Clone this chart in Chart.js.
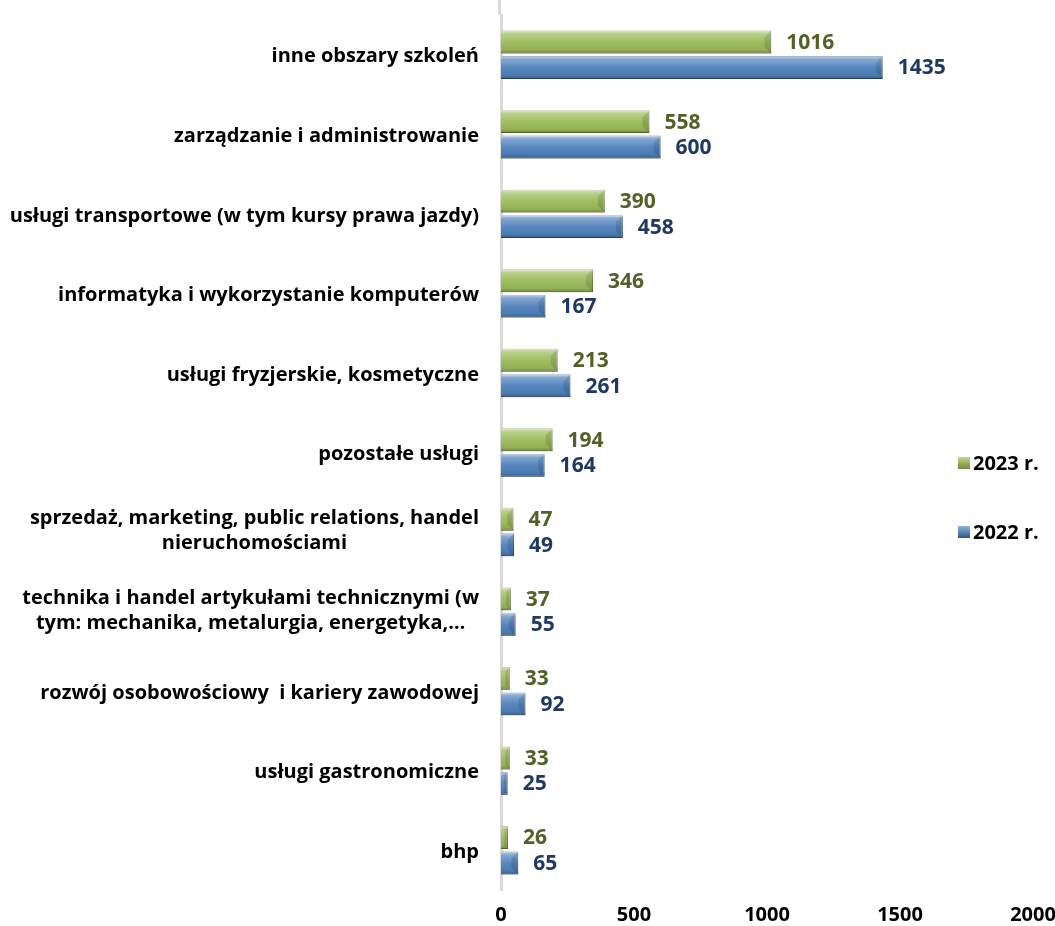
<!DOCTYPE html>
<html>
<head>
<meta charset="utf-8">
<script src="https://cdn.jsdelivr.net/npm/chart.js@4"></script>
<style>
  body { margin: 0; background: #fff; }
  #wrap { width: 1055px; height: 926px; }
</style>
</head>
<body>
<div id="wrap"><canvas id="chart" width="1055" height="926"></canvas></div>
<script>
// dane
const categories = [
  ['inne obszary szkoleń'],
  ['zarządzanie i administrowanie'],
  ['usługi transportowe (w tym kursy prawa jazdy)'],
  ['informatyka i wykorzystanie komputerów'],
  ['usługi fryzjerskie, kosmetyczne'],
  ['pozostałe usługi'],
  ['sprzedaż, marketing, public relations, handel', 'nieruchomościami'],
  ['technika i handel artykułami technicznymi (w', 'tym: mechanika, metalurgia, energetyka,…'],
  ['rozwój osobowościowy  i kariery zawodowej'],
  ['usługi gastronomiczne'],
  ['bhp']
];
const values2023 = [1016, 558, 390, 346, 213, 194, 47, 37, 33, 33, 26];
const values2022 = [1435, 600, 458, 167, 261, 164, 49, 55, 92, 25, 65];
const seriesNames = ['2023 r.', '2022 r.'];
const xTicks = [0, 500, 1000, 1500, 2000];

const FONT = '"Open Sans", Lato, sans-serif';
const fillColors = ['#9bbb59', '#4f81bd'];
const edgeColors = ['#6f8a35', '#2f5586'];
const labelColors = ['#4f6228', '#1f3864'];

// efekt 3D na slupkach
function bevel(ctx, x0, x1, top, bottom) {
  const h = bottom - top;
  const g = ctx.createLinearGradient(0, top, 0, bottom);
  g.addColorStop(0, 'rgba(255,255,255,0.65)');
  g.addColorStop(0.15, 'rgba(255,255,255,0.3)');
  g.addColorStop(0.5, 'rgba(255,255,255,0.05)');
  g.addColorStop(0.85, 'rgba(0,0,0,0.06)');
  g.addColorStop(1, 'rgba(0,0,0,0.3)');
  ctx.fillStyle = g;
  ctx.fillRect(x0, top, x1 - x0, h);
  const b = Math.min(h * 0.3, (x1 - x0) * 0.5);
  ctx.fillStyle = 'rgba(0,0,0,0.12)';
  ctx.beginPath();
  ctx.moveTo(x1, top); ctx.lineTo(x1, bottom); ctx.lineTo(x1 - b, bottom - b); ctx.lineTo(x1 - b, top + b);
  ctx.closePath(); ctx.fill();
}

const barStyle = {
  id: 'barStyle',
  afterDatasetsDraw(chart) {
    const ctx = chart.ctx;
    ctx.save();
    chart.data.datasets.forEach((ds, di) => {
      chart.getDatasetMeta(di).data.forEach((el, i) => {
        const top = el.y - el.height / 2, bottom = el.y + el.height / 2;
        bevel(ctx, el.base, el.x, top, bottom);
        ctx.fillStyle = labelColors[di];
        ctx.font = 'bold 21px ' + FONT;
        ctx.textAlign = 'left';
        ctx.textBaseline = 'middle';
        ctx.fillText(ds.data[i], el.x + 15, el.y + 1);
      });
    });
    ctx.restore();
  }
};

const categoryLabels = {
  id: 'categoryLabels',
  afterDraw(chart) {
    const ctx = chart.ctx, y = chart.scales.y, area = chart.chartArea;
    ctx.save();
    // os pionowa az do gornej krawedzi
    ctx.strokeStyle = '#d9d9d9';
    ctx.lineWidth = 3;
    ctx.beginPath();
    ctx.moveTo(area.left - 1.5, 0);
    ctx.lineTo(area.left - 1.5, area.top);
    ctx.stroke();

    ctx.font = 'bold 20px ' + FONT;
    ctx.fillStyle = '#000';
    ctx.textAlign = 'center';
    ctx.textBaseline = 'middle';
    const right = area.left - 22;
    categories.forEach((lines, i) => {
      const cy = y.getPixelForValue(i);
      const w = Math.max(...lines.map(l => ctx.measureText(l).width));
      const shift = lines.length > 1 ? -1 : 2;
      lines.forEach((l, j) => {
        ctx.fillText(l, right - w / 2, cy + shift + (j - (lines.length - 1) / 2) * 25);
      });
    });
    // legenda
    const legY = [463, 532];
    seriesNames.forEach((name, k) => {
      const g = ctx.createLinearGradient(0, legY[k] - 6, 0, legY[k] + 6);
      g.addColorStop(0, k ? '#8db4e2' : '#c4d98a');
      g.addColorStop(1, edgeColors[k]);
      ctx.fillStyle = g;
      ctx.fillRect(958, legY[k] - 6, 12, 12);
      ctx.fillStyle = '#000';
      ctx.textAlign = 'left';
      ctx.font = 'bold 20px ' + FONT;
      ctx.fillText(name, 973, legY[k] + 1);
    });
    ctx.restore();
  }
};

new Chart(document.getElementById('chart'), {
  type: 'bar',
  data: {
    labels: categories,
    datasets: [
      { label: seriesNames[0], data: values2023, backgroundColor: fillColors[0], borderColor: edgeColors[0], borderWidth: 1 },
      { label: seriesNames[1], data: values2022, backgroundColor: fillColors[1], borderColor: edgeColors[1], borderWidth: 1 }
    ]
  },
  options: {
    indexAxis: 'y',
    responsive: false,
    animation: false,
    layout: { padding: { left: 501, right: 0, top: 15, bottom: -14 } },
    categoryPercentage: 0.64,
    barPercentage: 0.9,
    plugins: { legend: { display: false }, tooltip: { enabled: false } },
    scales: {
      x: {
        min: 0, max: 2000,
        afterBuildTicks: s => { s.ticks = xTicks.map(v => ({ value: v })); },
        afterFit: s => { s.paddingRight = 22; },
        grid: { display: false, drawTicks: false },
        border: { display: false },
        ticks: { color: '#000', font: { family: FONT, size: 20, weight: 'bold' }, padding: 13, callback: v => String(v) }
      },
      y: {
        grid: { display: false, drawTicks: false },
        border: { display: true, color: '#d9d9d9', width: 3 },
        ticks: { display: false }
      }
    }
  },
  plugins: [barStyle, categoryLabels]
});
</script>
</body>
</html>
